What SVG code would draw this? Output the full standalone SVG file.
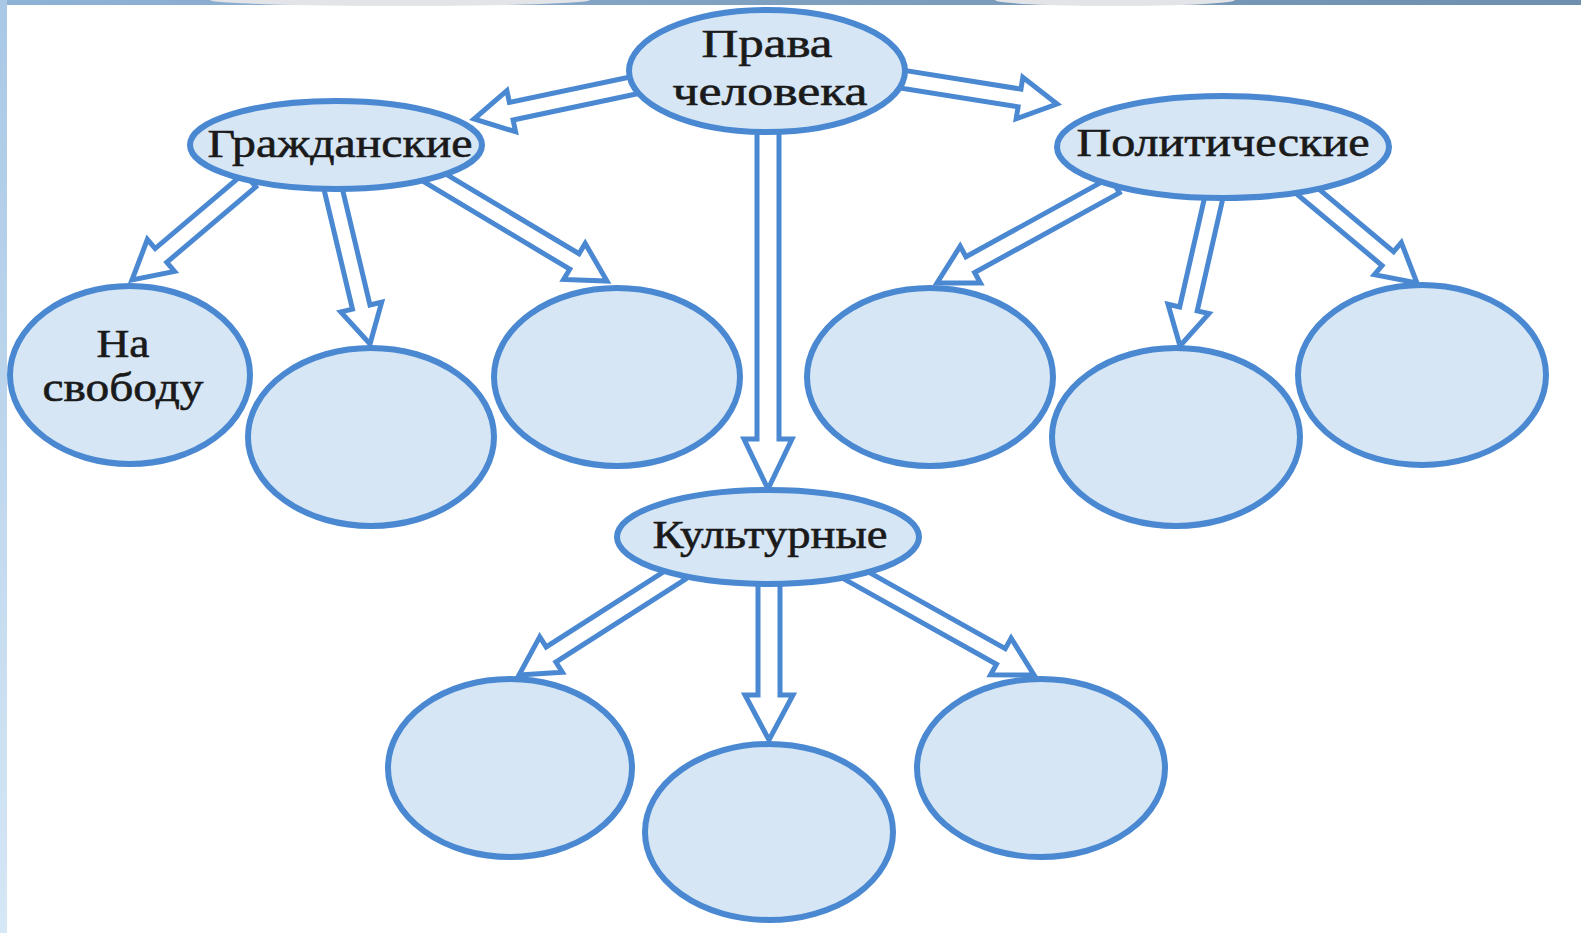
<svg xmlns="http://www.w3.org/2000/svg" width="1581" height="933" viewBox="0 0 1581 933">
<defs>
<linearGradient id="topband" x1="0" y1="0" x2="1" y2="0">
<stop offset="0" stop-color="#8fb3d6"/>
<stop offset="0.5" stop-color="#7f9fbf"/>
<stop offset="1" stop-color="#6f8faf"/>
</linearGradient>
<linearGradient id="leftband" x1="0" y1="0" x2="0" y2="1">
<stop offset="0" stop-color="#a9c8e6"/>
<stop offset="1" stop-color="#d6e7f5"/>
</linearGradient>
<style>
.node{fill:#d6e6f5;stroke:#4a88d2;stroke-width:6}
.arr{fill:#ffffff;stroke:#4a88d2;stroke-width:5;stroke-linejoin:miter}
.lbl{font-family:"Liberation Serif","Times New Roman",serif;font-size:40px;fill:#1a1a1a;stroke:#1a1a1a;stroke-width:0.6;text-anchor:middle}
</style>
</defs>
<rect x="0" y="0" width="1581" height="933" fill="#ffffff"/>
<rect x="0" y="0" width="1581" height="5" fill="url(#topband)"/>
<ellipse cx="400" cy="0" rx="190" ry="6" fill="#e2e4e8"/>
<ellipse cx="1115" cy="0" rx="120" ry="6" fill="#e2e4e8"/>
<rect x="0" y="0" width="7" height="933" fill="url(#leftband)"/>

<g id="connectors">
<path class="arr" transform="translate(645,83) rotate(168.11)" d="M0,-9 H136.7 V-21 L174.7,0 L136.7,21 V9 H0 Z"/>
<path class="arr" transform="translate(895,78) rotate(9.12)" d="M0,-9 H126.1 V-21 L164.1,0 L126.1,21 V9 H0 Z"/>
<path class="arr" transform="translate(768,125) rotate(90)" d="M0,-11 H314 V-24 L364,0 L314,24 V11 H0 Z"/>
<path class="arr" transform="translate(250,180) rotate(139.72)" d="M0,-9 H116.7 V-21 L154.7,0 L116.7,21 V9 H0 Z"/>
<path class="arr" transform="translate(331,180) rotate(76.62)" d="M0,-9 H130.6 V-21 L168.6,0 L130.6,21 V9 H0 Z"/>
<path class="arr" transform="translate(430,175) rotate(30.92)" d="M0,-9 H168.3 V-21 L206.3,0 L168.3,21 V9 H0 Z"/>
<path class="arr" transform="translate(1115,185) rotate(151.16)" d="M0,-9 H165.2 V-21 L203.2,0 L165.2,21 V9 H0 Z"/>
<path class="arr" transform="translate(1216,188) rotate(102.84)" d="M0,-9 H124 V-21 L162,0 L124,21 V9 H0 Z"/>
<path class="arr" transform="translate(1300,185) rotate(39.95)" d="M0,-9 H114.6 V-21 L152.6,0 L114.6,21 V9 H0 Z"/>
<path class="arr" transform="translate(680,572) rotate(147.39)" d="M0,-9 H153.1 V-21 L191.1,0 L153.1,21 V9 H0 Z"/>
<path class="arr" transform="translate(769,578) rotate(90)" d="M0,-11 H117 V-24 L162,0 L117,24 V11 H0 Z"/>
<path class="arr" transform="translate(850,572) rotate(29.24)" d="M0,-9 H172.9 V-21 L210.9,0 L172.9,21 V9 H0 Z"/>
</g>

<g id="n-prava">
<ellipse class="node" cx="767" cy="71" rx="138" ry="61"/>
<text class="lbl" x="767" y="57" textLength="131" lengthAdjust="spacingAndGlyphs">Права</text>
<text class="lbl" x="770" y="105" textLength="195" lengthAdjust="spacingAndGlyphs">человека</text>
</g>
<g id="n-grazh">
<ellipse class="node" cx="336" cy="145" rx="146" ry="44"/>
<text class="lbl" x="340" y="157" textLength="265" lengthAdjust="spacingAndGlyphs">Гражданские</text>
</g>
<g id="n-polit">
<ellipse class="node" cx="1223" cy="147" rx="166" ry="51"/>
<text class="lbl" x="1223" y="156" textLength="293" lengthAdjust="spacingAndGlyphs">Политические</text>
</g>
<g id="n-kult">
<ellipse class="node" cx="768" cy="537" rx="151" ry="47"/>
<text class="lbl" x="770" y="548" textLength="235" lengthAdjust="spacingAndGlyphs">Культурные</text>
</g>
<g id="n-svoboda">
<ellipse class="node" cx="130" cy="375" rx="120" ry="89"/>
<text class="lbl" x="123" y="357" textLength="53" lengthAdjust="spacingAndGlyphs">На</text>
<text class="lbl" x="123" y="401" textLength="161" lengthAdjust="spacingAndGlyphs">свободу</text>
</g>
<g id="n-g2"><ellipse class="node" cx="371" cy="437" rx="123" ry="89"/></g>
<g id="n-g3"><ellipse class="node" cx="617" cy="377" rx="123" ry="89"/></g>
<g id="n-p1"><ellipse class="node" cx="930" cy="377" rx="123" ry="89"/></g>
<g id="n-p2"><ellipse class="node" cx="1176" cy="437" rx="124" ry="89"/></g>
<g id="n-p3"><ellipse class="node" cx="1422" cy="375" rx="124" ry="90"/></g>
<g id="n-k1"><ellipse class="node" cx="510" cy="768" rx="122" ry="89"/></g>
<g id="n-k2"><ellipse class="node" cx="769" cy="832" rx="124" ry="88"/></g>
<g id="n-k3"><ellipse class="node" cx="1041" cy="768" rx="124" ry="89"/></g>
</svg>
